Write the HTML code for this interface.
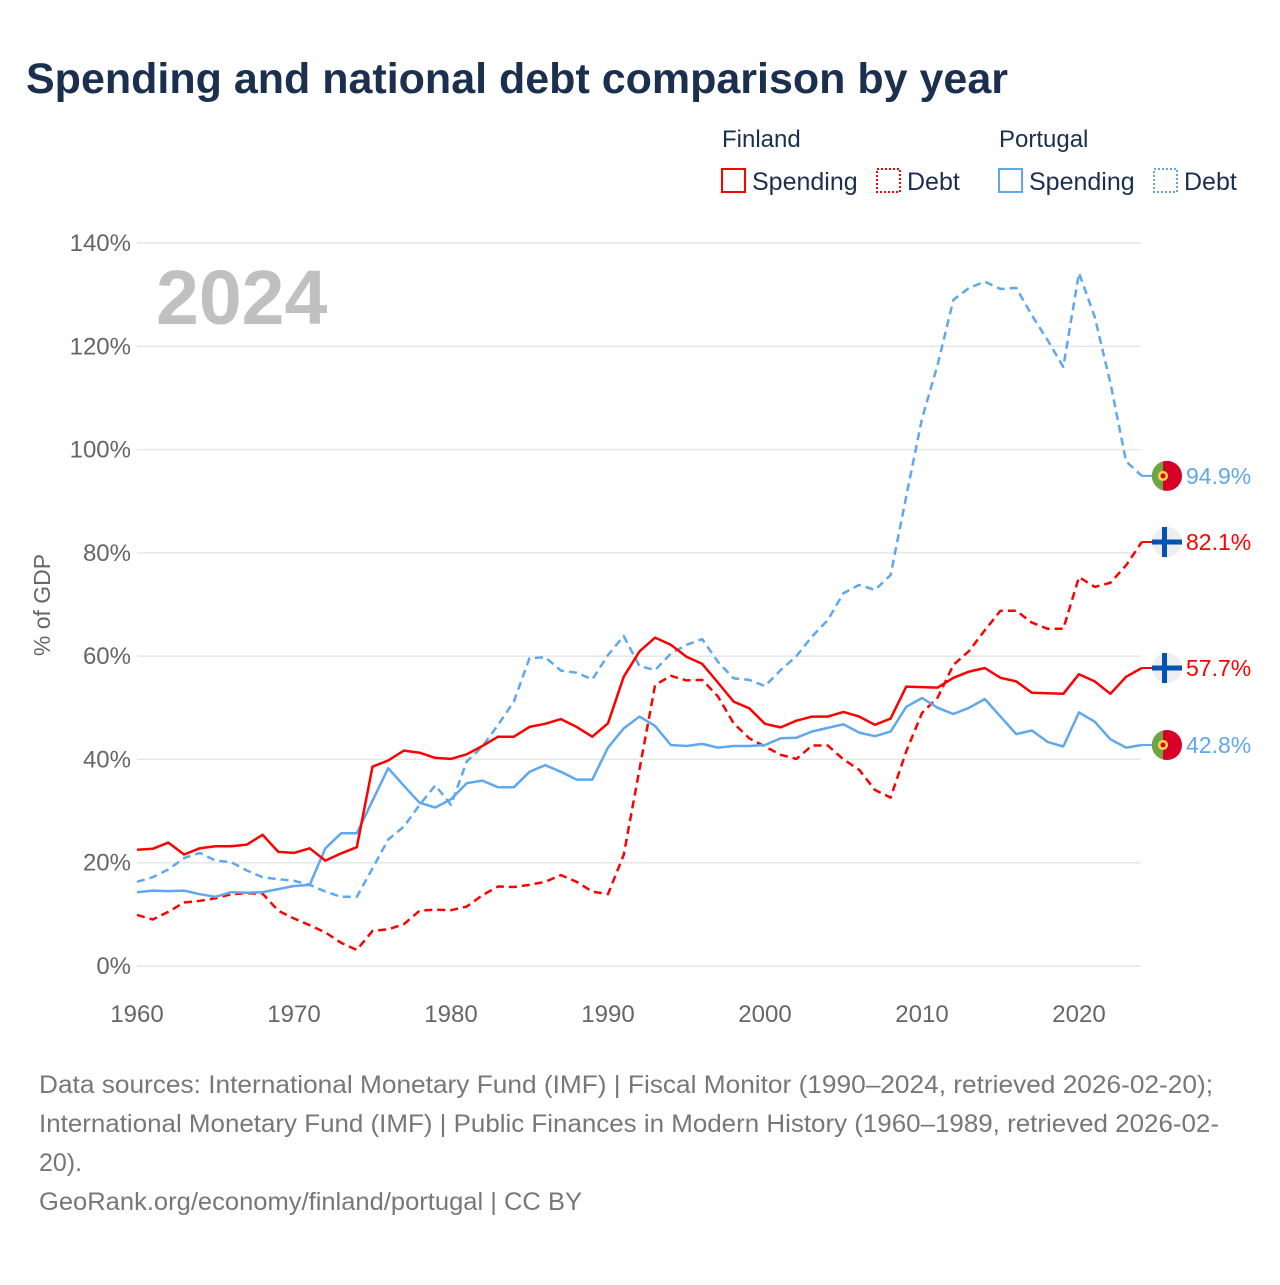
<!DOCTYPE html>
<html><head><meta charset="utf-8"><style>
body{margin:0;background:#fff;width:1280px;height:1280px;overflow:hidden;font-family:"Liberation Sans",sans-serif}
svg text{font-family:"Liberation Sans",sans-serif}
</style></head><body>
<svg id="chart" width="1280" height="1280" viewBox="0 0 1280 1280">
<text x="26" y="93" font-size="43" font-weight="bold" fill="#1b2f4e">Spending and national debt comparison by year</text>
<g>
<text x="722" y="147" font-size="24" fill="#1b2f4e">Finland</text>
<text x="999" y="147" font-size="24" fill="#1b2f4e">Portugal</text>
<rect x="722" y="169" width="23" height="23" fill="none" stroke="#ff0000" stroke-width="2"/>
<text x="752" y="190" font-size="25" fill="#1b2f4e">Spending</text>
<rect x="877" y="169" width="23" height="23" fill="none" stroke="#ff0000" stroke-width="2" stroke-dasharray="2,2"/>
<text x="907" y="190" font-size="25" fill="#1b2f4e">Debt</text>
<rect x="999" y="169" width="23" height="23" fill="none" stroke="#5fa8ee" stroke-width="2"/>
<text x="1029" y="190" font-size="25" fill="#1b2f4e">Spending</text>
<rect x="1154" y="169" width="23" height="23" fill="none" stroke="#5fa8ee" stroke-width="2" stroke-dasharray="2,2"/>
<text x="1184" y="190" font-size="25" fill="#1b2f4e">Debt</text>
</g>
<text x="156" y="324" font-size="77" font-weight="bold" fill="#c0c0c0">2024</text>
<text transform="translate(50,605) rotate(-90)" text-anchor="middle" font-size="23" fill="#666">% of GDP</text>
<g id="grid"></g><g id="lines"></g><g id="ends"></g>
<g font-size="25" fill="#777">
<text x="39" y="1093" textLength="1174" lengthAdjust="spacingAndGlyphs">Data sources: International Monetary Fund (IMF) | Fiscal Monitor (1990–2024, retrieved 2026-02-20);</text>
<text x="39" y="1132" textLength="1180" lengthAdjust="spacingAndGlyphs">International Monetary Fund (IMF) | Public Finances in Modern History (1960–1989, retrieved 2026-02-</text>
<text x="39" y="1171">20).</text>
<text x="39" y="1210" textLength="543" lengthAdjust="spacingAndGlyphs">GeoRank.org/economy/finland/portugal | CC BY</text>
</g>
</svg>
<script>
const years = Array.from({length:65},(_, i)=>1960+i);
const yTicks = [0,20,40,60,80,100,120,140];
const xTicks = [1960,1970,1980,1990,2000,2010,2020];
const finSpending = [22.5,22.7,23.9,21.6,22.8,23.2,23.2,23.5,25.4,22.1,21.9,22.8,20.4,21.8,23.0,38.6,39.8,41.7,41.3,40.3,40.1,41.0,42.6,44.4,44.4,46.3,46.9,47.8,46.3,44.4,47.0,56.0,60.9,63.6,62.2,59.9,58.5,54.9,51.2,49.9,46.9,46.2,47.5,48.3,48.3,49.2,48.3,46.7,47.9,54.1,54.0,53.9,55.8,57.0,57.7,55.8,55.1,52.9,52.8,52.7,56.5,55.1,52.7,56.0,57.7];
const finDebt = [9.9,9.0,10.5,12.3,12.6,13.1,13.9,14.1,14.0,10.7,9.2,7.9,6.5,4.5,3.1,6.8,7.1,8.1,10.7,10.9,10.8,11.5,13.7,15.4,15.3,15.7,16.3,17.6,16.3,14.4,13.9,21.5,38.0,54.4,56.2,55.3,55.4,52.2,47.0,44.1,42.5,40.9,40.1,42.7,42.7,40.0,38.0,34.1,32.6,41.6,49.0,52.0,58.3,61.0,65.0,68.8,68.8,66.5,65.3,65.3,75.3,73.4,74.2,77.6,82.1];
const porSpending = [14.3,14.6,14.5,14.6,13.9,13.4,14.3,14.2,14.3,14.9,15.5,15.7,22.8,25.7,25.7,32.0,38.3,34.9,31.6,30.7,32.3,35.4,35.9,34.6,34.6,37.6,38.9,37.6,36.1,36.1,42.3,46.0,48.3,46.5,42.8,42.6,43.0,42.3,42.6,42.6,42.8,44.1,44.2,45.4,46.1,46.8,45.2,44.5,45.4,50.2,51.9,50.0,48.8,50.0,51.7,48.3,44.9,45.6,43.4,42.5,49.1,47.3,43.9,42.3,42.8];
const porDebt = [16.3,17.2,18.7,20.9,21.9,20.4,20.1,18.5,17.2,16.8,16.5,15.7,14.4,13.4,13.4,18.9,24.5,27.0,31.2,35.0,31.2,39.6,42.5,46.7,51.2,59.6,59.8,57.2,56.8,55.5,60.2,63.9,58.1,57.3,60.5,62.2,63.3,58.9,55.7,55.4,54.2,57.3,60.0,63.8,67.0,72.2,73.8,72.8,75.7,91.0,106.0,116.5,129.0,131.3,132.5,131.1,131.3,126.0,121.2,116.0,134.2,125.7,112.9,97.7,94.9];
const NS='http://www.w3.org/2000/svg';
const X = y => 137 + (y-1960)*(1079-137)/60;
const Y = v => 966 - v*(966-243)/140;
function mk(tag, attrs, parent){const e=document.createElementNS(NS,tag);for(const k in attrs)e.setAttribute(k,attrs[k]);parent.appendChild(e);return e;}
const grid=document.getElementById('grid');
yTicks.forEach(t=>{
  const l=mk('line',{x1:137,x2:1141,y1:Y(t),y2:Y(t),stroke:'#e6e6e6','stroke-width':1.5},grid);
  
  
  const tx=mk('text',{x:131,y:Y(t)+8,'text-anchor':'end','font-size':24,fill:'#666'},grid);
  tx.textContent=t+'%';
  
  
});
xTicks.forEach(t=>{
  const tx=mk('text',{x:X(t),y:1022,'text-anchor':'middle','font-size':24,fill:'#666'},grid);
  tx.textContent=t;
  
  
});
const lines=document.getElementById('lines');
const series=[[porDebt,'#5fa8ee',true,'line-portugal-debt'],[finDebt,'#ff0000',true,'line-finland-debt'],[porSpending,'#5fa8ee',false,'line-portugal-spending'],[finSpending,'#ff0000',false,'line-finland-spending']];
series.forEach(([d,c,dash,name])=>{
  const pts=d.map((v,i)=>X(years[i]).toFixed(1)+','+Y(v).toFixed(1)).join(' ');
  const a={points:pts,fill:'none',stroke:c,'stroke-width':2.5,'stroke-linejoin':'round'};
  if(dash)a['stroke-dasharray']='8,5';
  const p=mk('polyline',a,lines);
  
  
});
const ends=document.getElementById('ends');
const endInfo=[[porDebt,'#5fa8ee','pt','portugal-debt'],[finDebt,'#ff0000','fi','finland-debt'],[finSpending,'#ff0000','fi','finland-spending'],[porSpending,'#5fa8ee','pt','portugal-spending']];
endInfo.forEach(([d,c,flag,name])=>{
  const v=d[d.length-1], cy=Y(v), cx=1167;
  mk('line',{x1:X(2024),x2:cx,y1:cy,y2:cy,stroke:c,'stroke-width':2},ends);
  const g=mk('g',{},ends);
  
  
  if(flag==='pt'){
    mk('circle',{cx:cx,cy:cy,r:15,fill:'#d80027'},g);
    mk('path',{d:`M${cx-4} ${cy-14.5} A15 15 0 0 0 ${cx-4} ${cy+14.5} Z`,fill:'#6da544'},g);
    mk('circle',{cx:cx-4,cy:cy,r:5,fill:'#ffda44'},g);
    mk('circle',{cx:cx-4,cy:cy,r:2.5,fill:'#d80027'},g);
  } else {
    mk('circle',{cx:cx,cy:cy,r:15,fill:'#eeeeee'},g);
    mk('rect',{x:cx-15,y:cy-2.5,width:30,height:5,fill:'#0052b4'},g);
    mk('rect',{x:cx-5,y:cy-15,width:5,height:30,fill:'#0052b4'},g);
  }
  const t=mk('text',{x:1186,y:cy+8,'font-size':23,fill:c},ends);
  t.textContent=v.toFixed(1)+'%';
  
  
});
</script>
</body></html>
